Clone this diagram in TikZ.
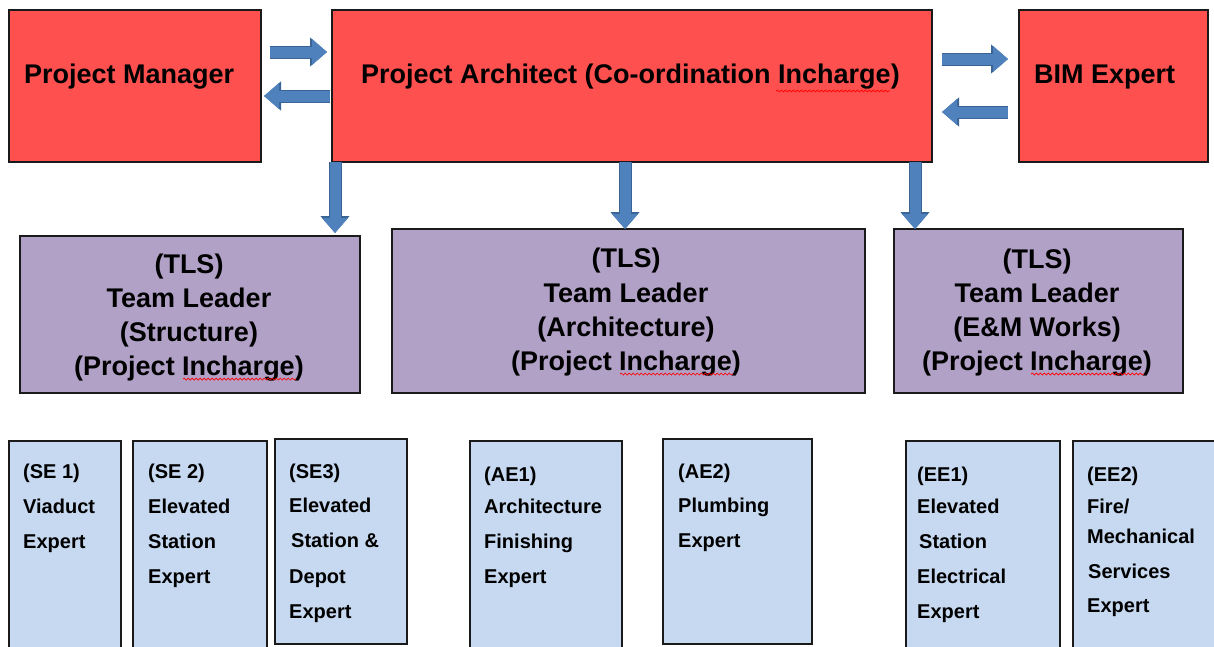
\documentclass[tikz,border=0pt]{standalone}
\usepackage{fontspec}
\setmainfont{Liberation Sans}
\usetikzlibrary{arrows.meta,calc,decorations.pathmorphing}
\definecolor{redfill}{HTML}{FF5050}
\definecolor{purplefill}{HTML}{B2A1C7}
\definecolor{bluefill}{HTML}{C6D9F1}
\definecolor{arrfill}{HTML}{4F81BD}
\definecolor{arredge}{HTML}{3A6496}
\definecolor{edge}{HTML}{1A1A1A}
\tikzset{
  box/.style={draw=edge, line width=1.5pt, anchor=north west, inner sep=0pt, outer sep=0pt},
  redbox/.style={box, fill=redfill},
  tlsbox/.style={box, fill=purplefill},
  expbox/.style={box, fill=bluefill},
  bigtxt/.style={font=\bfseries\fontsize{27}{30}\selectfont, inner sep=0pt, text=black},
  smalltxt/.style={font=\bfseries\fontsize{20}{24}\selectfont, inner sep=0pt, text=black, anchor=base west},
  blk/.style={line width=11pt, draw=arrfill, -{Triangle[length=15pt,width=25pt]},
    preaction={draw=arredge, line width=13pt, -{Triangle[length=17pt,width=28pt]}}},
  squig/.style={draw=red, line width=0.7pt, decorate, decoration={snake, amplitude=1pt, segment length=4pt}}
}
\begin{document}
\begin{tikzpicture}[x=1pt,y=-1pt]
\useasboundingbox (0,0) rectangle (1214,646);
\clip (0,0) rectangle (1214,646);
\fill[white] (0,0) rectangle (1214,646);

% top row
\node[redbox, minimum width=252pt, minimum height=152pt] (pm) at (9,10) {};
\node[redbox, minimum width=600pt, minimum height=152pt] (pa) at (332,10) {};
\node[redbox, minimum width=189pt, minimum height=152pt] (bim) at (1019,10) {};
\node[bigtxt, anchor=base west] (pmt) at (24,83) {Project Manager};
\node[bigtxt, anchor=base west] (pat) at (361,83) {Project Architect (Co-ordination Incharge)};
\node[bigtxt, anchor=base west] (bimt) at (1034,83) {BIM Expert};
\draw[squig] (776,91) -- (890,91);

% team leaders
\node[tlsbox, minimum width=340pt, minimum height=157pt] (tls1) at (20,236) {};
\node[tlsbox, minimum width=473pt, minimum height=164pt] (tls2) at (392,229) {};
\node[tlsbox, minimum width=289pt, minimum height=164pt] (tls3) at (894,229) {};

\node[bigtxt, anchor=base] (t1a) at (189,273) {(TLS)};
\node[bigtxt, anchor=base] (t1b) at (189,307) {Team Leader};
\node[bigtxt, anchor=base] (t1c) at (189,341) {(Structure)};
\node[bigtxt, anchor=base] (t1d) at (189,375) {(Project Incharge)};
\draw[squig] (183,379) -- (296,379);

\node[bigtxt, anchor=base] (t2a) at (626,267) {(TLS)};
\node[bigtxt, anchor=base] (t2b) at (626,302) {Team Leader};
\node[bigtxt, anchor=base] (t2c) at (626,336) {(Architecture)};
\node[bigtxt, anchor=base] (t2d) at (626,370) {(Project Incharge)};
\draw[squig] (620,374) -- (733,374);

\node[bigtxt, anchor=base] (t3a) at (1037,268) {(TLS)};
\node[bigtxt, anchor=base] (t3b) at (1037,302) {Team Leader};
\node[bigtxt, anchor=base] (t3c) at (1037,336) {(E\&M Works)};
\node[bigtxt, anchor=base] (t3d) at (1037,370) {(Project Incharge)};
\draw[squig] (1031,374) -- (1144,374);

% experts
\node[expbox, minimum width=112pt, minimum height=215pt] (se1) at (9,441) {};
\node[expbox, minimum width=134pt, minimum height=215pt] (se2) at (133,441) {};
\node[expbox, minimum width=132pt, minimum height=205pt] (se3) at (275,439) {};
\node[expbox, minimum width=152pt, minimum height=215pt] (ae1) at (470,441) {};
\node[expbox, minimum width=149pt, minimum height=205pt] (ae2) at (663,439) {};
\node[expbox, minimum width=154pt, minimum height=215pt] (ee1) at (906,441) {};
\node[expbox, minimum width=160pt, minimum height=215pt] (ee2) at (1073,441) {};

\node[smalltxt] (se1a) at (23,478) {(SE 1)};
\node[smalltxt] (se1b) at (23,513) {Viaduct};
\node[smalltxt] (se1c) at (23,548) {Expert};

\node[smalltxt] (se2a) at (148,478) {(SE 2)};
\node[smalltxt] (se2b) at (148,513) {Elevated};
\node[smalltxt] (se2c) at (148,548) {Station};
\node[smalltxt] (se2d) at (148,583) {Expert};

\node[smalltxt] (se3a) at (289,478) {(SE3)};
\node[smalltxt] (se3b) at (289,512) {Elevated};
\node[smalltxt] (se3c) at (291,547) {Station \&};
\node[smalltxt] (se3d) at (289,583) {Depot};
\node[smalltxt] (se3e) at (289,618) {Expert};

\node[smalltxt] (ae1a) at (484,481) {(AE1)};
\node[smalltxt] (ae1b) at (484,513) {Architecture};
\node[smalltxt] (ae1c) at (484,548) {Finishing};
\node[smalltxt] (ae1d) at (484,583) {Expert};

\node[smalltxt] (ae2a) at (678,478) {(AE2)};
\node[smalltxt] (ae2b) at (678,512) {Plumbing};
\node[smalltxt] (ae2c) at (678,547) {Expert};

\node[smalltxt] (ee1a) at (917,481) {(EE1)};
\node[smalltxt] (ee1b) at (917,513) {Elevated};
\node[smalltxt] (ee1c) at (919,548) {Station};
\node[smalltxt] (ee1d) at (917,583) {Electrical};
\node[smalltxt] (ee1e) at (917,618) {Expert};

\node[smalltxt] (ee2a) at (1087,481) {(EE2)};
\node[smalltxt] (ee2b) at (1087,513) {Fire/};
\node[smalltxt] (ee2c) at (1087,543) {Mechanical};
\node[smalltxt] (ee2d) at (1088,578) {Services};
\node[smalltxt] (ee2e) at (1087,612) {Expert};

% connectors
\draw[blk] ($(pm.north east)+(9,42)$) -- ($(pa.north west)+(-5,42)$);
\draw[blk] ($(pa.north west)+(-2,86)$) -- ($(pm.north east)+(3,86)$);
\draw[blk] ($(pa.north east)+(10,49)$) -- ($(bim.north west)+(-11,49)$);
\draw[blk] ($(bim.north west)+(-11,102)$) -- ($(pa.north east)+(10,102)$);
\draw[blk] ($(pa.south west)+(3,0)$) -- ($(tls1.north east)+(-25,-3)$);
\draw[blk] ($(pa.south)+(-7,0)$) -- ($(tls2.north)+(-3.5,0)$);
\draw[blk] ($(pa.south east)+(-17,0)$) -- ($(tls3.north west)+(21,0)$);
\end{tikzpicture}
\end{document}
